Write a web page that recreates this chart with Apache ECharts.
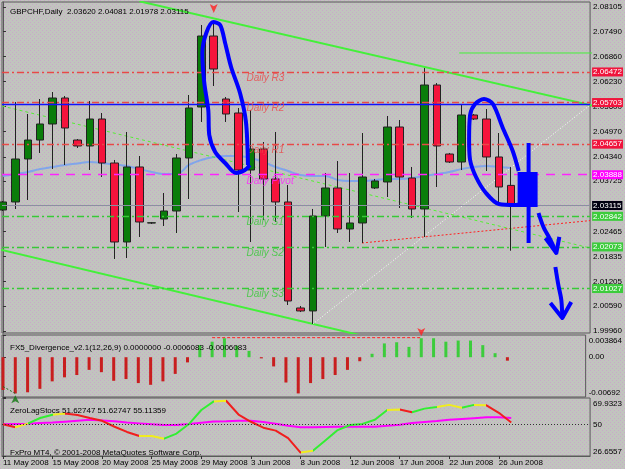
<!DOCTYPE html>
<html>
<head>
<meta charset="utf-8">
<style>
  html, body { margin: 0; padding: 0; background: #c0c3bd; }
  #main { width: 625px; height: 469px; }
</style>
<script src="https://cdn.jsdelivr.net/npm/echarts@6/dist/echarts.min.js"></script>
</head>
<body>
<div id="main"></div>
<script>
// GBPCHF daily, bar 0 = 11 May 2008 ... bar 41 = 27 Jun 2008
// [open, close, low, high]
const candles = [
  [2.03002, 2.03203, 2.02976, 2.03228],
  [2.03203, 2.04284, 2.03027, 2.05717],
  [2.04284, 2.04761, 2.03253, 2.05415],
  [2.04761, 2.05164, 2.04435, 2.05792],
  [2.05164, 2.05817, 2.04032, 2.05968],
  [2.05817, 2.05063, 2.04133, 2.05868],
  [2.04761, 2.04611, 2.04560, 2.04786],
  [2.04611, 2.05289, 2.04007, 2.05742],
  [2.05289, 2.04183, 2.03831, 2.05440],
  [2.04183, 2.02197, 2.01770, 2.04259],
  [2.02197, 2.04083, 2.01795, 2.04963],
  [2.04083, 2.02700, 2.02323, 2.04359],
  [2.02675, 2.02680, 2.02650, 2.02700],
  [2.02775, 2.02976, 2.02599, 2.03429],
  [2.02976, 2.04309, 2.02423, 2.04409],
  [2.04309, 2.05566, 2.03278, 2.05893],
  [2.05591, 2.07376, 2.05214, 2.07653],
  [2.07376, 2.06546, 2.06119, 2.07728],
  [2.05792, 2.05415, 2.05214, 2.05842],
  [2.05440, 2.04007, 2.02951, 2.05566],
  [2.04007, 2.04535, 2.02197, 2.05516],
  [2.04535, 2.03781, 2.02750, 2.04711],
  [2.03781, 2.03203, 2.02700, 2.04963],
  [2.03203, 2.00714, 2.00613, 2.03630],
  [2.00538, 2.00463, 2.00437, 2.00588],
  [2.00463, 2.02851, 2.00136, 2.03027],
  [2.02851, 2.03555, 2.02071, 2.03932],
  [2.03555, 2.02524, 2.02423, 2.04233],
  [2.02524, 2.02675, 2.02197, 2.03932],
  [2.02675, 2.03831, 2.02172, 2.04937],
  [2.03555, 2.03731, 2.03530, 2.03781],
  [2.03706, 2.05088, 2.03328, 2.05365],
  [2.05088, 2.03831, 2.03052, 2.05264],
  [2.03806, 2.03027, 2.02800, 2.04083],
  [2.03027, 2.06144, 2.02323, 2.06572],
  [2.06144, 2.04611, 2.03580, 2.06194],
  [2.04409, 2.04208, 2.04183, 2.04435],
  [2.04208, 2.05390, 2.04007, 2.05666],
  [2.05390, 2.05289, 2.05264, 2.05415],
  [2.05289, 2.04334, 2.03982, 2.05541],
  [2.04334, 2.03580, 2.03203, 2.04937],
  [2.03620, 2.03115, 2.01978, 2.04081],
]

const maLine = [
  2.03856, 2.03907, 2.03957, 2.04032, 2.04083, 2.04133, 2.04170, 2.04208, 2.04183, 2.04145,
  2.04108, 2.04032, 2.03957, 2.03907, 2.03907, 2.04133, 2.04259, 2.04334, 2.04359, 2.04359,
  2.04309, 2.04208, 2.04083, 2.03982, 2.03881, 2.03856, 2.03856, 2.03756, 2.03731, 2.03731,
  2.03756, 2.03781, 2.03781, 2.03806, 2.03856, 2.03907, 2.03957, 2.04032, 2.04083, 2.04108,
  2.04083, 2.04057,
]

const pivotNames = ['Daily R3', 'Daily R2', 'Daily R1', 'Daily Pivot', 'Daily S1', 'Daily S2', 'Daily S3']
const pivotValues = [2.06472, 2.05703, 2.04657, 2.03888, 2.02842, 2.02073, 2.01027]
const bidPrice = 2.03115
const userHLine = 2.05670

const priceTicks = [2.08105, 2.07490, 2.06860, 2.06230, 2.05600, 2.04970, 2.04340, 2.03725,
  2.03095, 2.02465, 2.01835, 2.01205, 2.00590, 1.99960]

const tickBars = [0, 4, 8, 12, 16, 20, 24, 28, 32, 36, 40]
const tickDates = ['11 May 2008', '15 May 2008', '20 May 2008', '25 May 2008', '29 May 2008',
  '3 Jun 2008', '8 Jun 2008', '12 Jun 2008', '17 Jun 2008', '22 Jun 2008', '26 Jun 2008']

// trendlines [bar, price]
const upperTrend = [[11.0, 2.08249], [48, 2.05595]]
const lowerTrend = [[-0.5, 2.02027], [29, 1.99840]]
const whiteTrend = [[25, 2.00136], [47.36, 2.05641]]
const redTrend = [[28.96, 2.02172], [47.36, 2.02735]]
const greenDotTrend = [[-0.08, 2.05616], [47.36, 2.02046]]
const greenShort = [[36.8, 2.06949], [48, 2.06949]]

// hand drawn blue marks
const blueLoop1 = [[19.76, 2.04133], [19.6, 2.05214], [19.12, 2.05943], [18.4, 2.06597], [17.92, 2.07200],
  [17.52, 2.07653], [16.96, 2.07728], [16.4, 2.07451], [16.08, 2.06949], [16.24, 2.06194],
  [16.56, 2.05516], [16.64, 2.04887], [17.12, 2.04460], [17.92, 2.04183], [18.8, 2.03932],
  [19.52, 2.04007], [19.92, 2.04133]]
const blueLoop2 = [[41.6, 2.03982], [41.12, 2.04485], [40.32, 2.05063], [39.52, 2.05666], [38.8, 2.05792],
  [38.08, 2.05666], [37.68, 2.05390], [37.6, 2.04761], [37.68, 2.04259], [38.16, 2.03831],
  [38.96, 2.03429], [40.0, 2.03152], [41.36, 2.03127], [42.16, 2.03177]]
const blueBody = [[42.32, 2.03957], [42.32, 2.03077]]
const blueWick = [[42.4, 2.04686], [42.4, 2.02172]]
const arrow1 = [[43.2, 2.02926], [43.6, 2.02574], [44.16, 2.02247], [44.64, 2.01921]]
const arrow1Head = [[43.76, 2.02298], [44.64, 2.01921], [44.88, 2.02323]]
const arrow2 = [[44.56, 2.01569], [44.8, 2.01116], [45.04, 2.00739], [45.12, 2.00287]]
const arrow2Head = [[44.16, 2.00664], [45.12, 2.00287], [45.84, 2.00689]]

// FX5 divergence histogram
const macdHist = [
  -0.0057, -0.0063, -0.0061, -0.0055, -0.0042, -0.0035, -0.0031, -0.0022, -0.0026, -0.0041,
  -0.0038, -0.0045, -0.0048, -0.0042, -0.0029, -0.0009, 0.0021, 0.0027, 0.0033, 0.0020,
  0.0011, -0.0002, -0.0016, -0.0044, -0.0063, -0.0045, -0.0038, -0.0031, -0.0022, -0.0007,
  0.0006, 0.0024, 0.0026, 0.0018, 0.0033, 0.0033, 0.0027, 0.0029, 0.0029, 0.0021,
  0.0007, -0.0006,
]
const divLine = [[17, 0.0034], [34, 0.0034]]
const divLow = [[0, -0.0051], [1, -0.0063]]
const macdTicks = [-0.00692, 0, 0.003864]

// ZeroLag stochastic
const stochMain = [
  50.4, 48.1, 50.8, 55.0, 57.5, 58.4, 57.3, 55.0, 52.9, 48.5,
  44.6, 41.6, 41.6, 39.6, 43.4, 50.5, 61.0, 67.4, 67.9, 57.6,
  52.2, 47.8, 45.6, 40.0, 29.2, 30.5, 38.3, 46.0, 49.8, 50.6,
  53.7, 61.0, 61.4, 59.3, 62.0, 63.2, 64.8, 62.7, 64.8, 64.5,
  58.9, 51.6,
]
const stochSignal = [
  50.4, 50.6, 50.8, 51.2, 51.6, 52.3, 53.0, 53.7, 53.2, 52.5,
  51.6, 51.0, 50.4, 49.8, 49.8, 50.5, 51.5, 52.4, 52.6, 52.9,
  52.9, 52.0, 50.8, 49.2, 48.1, 48.1, 48.3, 48.5, 48.5, 48.5,
  48.5, 49.2, 50.0, 51.2, 52.0, 52.8, 53.7, 54.3, 54.9, 55.5,
  55.5, 55.1,
]
// colour of each segment i -> i+1
const stochColors = ['r', 'y', 'g', 'g', 'y', 'r', 'r', 'r', 'r', 'r', 'r', 'y', 'y', 'g', 'g', 'g', 'g', 'y', 'r', 'r',
  'r', 'r', 'r', 'r', 'y', 'g', 'g', 'g', 'g', 'g', 'g', 'y', 'r', 'g', 'g', 'y', 'y', 'g', 'y', 'r', 'r']
const stochTicks = [26.6557, 50, 69.9323]

const FONT = 'Liberation Sans'
const colorMap = { r: '#f01e1e', y: '#f0ec1e', g: '#32ee32' }

// MT4 style dotted background
const pat = document.createElement('canvas')
pat.width = 4
pat.height = 4
const pctx = pat.getContext('2d')
pctx.fillStyle = '#c1c4be'
pctx.fillRect(0, 0, 4, 4)
pctx.fillStyle = '#c9a8c9'
pctx.fillRect(0, 0, 1, 1)
pctx.fillRect(2, 2, 1, 1)

const chart = echarts.init(document.getElementById('main'), null, { renderer: 'canvas' })

const xBase = { type: 'value', min: -0.08, max: 47.36, show: false }

function trend (data, color, width, type, z) {
  return {
    type: 'line', data, xAxisIndex: 0, yAxisIndex: 0, symbol: 'none', silent: true,
    lineStyle: { color, width, type }, z: z || 3,
  }
}

function blue (data, width, smooth) {
  return {
    type: 'line', data, xAxisIndex: 0, yAxisIndex: 0, symbol: 'none', silent: true, smooth: smooth || false,
    lineStyle: { color: '#0000ff', width, cap: 'butt', join: 'round' }, z: 10,
  }
}

function tagLine (value, color, bg, type, width) {
  return {
    yAxis: value,
    lineStyle: { color, type, width: width || 1 },
    label: {
      show: true, position: 'end', distance: 2, formatter: value.toFixed(5),
      color: '#fff', backgroundColor: bg, padding: [1, 1, 0, 1],
      fontFamily: FONT, fontSize: 8,
    },
  }
}

const pivotColors = ['#e84848', '#e84848', '#e84848', '#ff22ff', '#38c838', '#38c838', '#38c838']
const pivotDash = [[7, 3, 2, 3], [7, 3, 2, 3], [7, 3, 2, 3], [9, 7], [7, 3, 2, 3], [7, 3, 2, 3], [7, 3, 2, 3]]
const tagBg = ['#f0143c', '#f0143c', '#f0143c', '#ff00ff', '#3ccc3c', '#3ccc3c', '#3ccc3c']

const markLines = [{ yAxis: userHLine, lineStyle: { color: '#1010ff', type: 'solid', width: 1.3 }, label: { show: false } }]
pivotValues.forEach((v, i) => markLines.push(tagLine(v, pivotColors[i], tagBg[i], pivotDash[i], 1.3)))
markLines.push(tagLine(bidPrice, '#8a90a0', '#000010', 'solid', 1))

const series = [
  {
    type: 'candlestick',
    xAxisIndex: 0, yAxisIndex: 0,
    data: candles.map((c, i) => [i, c[0], c[1], c[2], c[3]]),
    barWidth: 8,
    itemStyle: {
      color: '#0a7d0a', color0: '#f5143c',
      borderColor: '#222', borderColor0: '#222', borderWidth: 1,
    },
    z: 4,
  },
  {
    type: 'line', xAxisIndex: 0, yAxisIndex: 0, symbol: 'none', smooth: 0.4, silent: true,
    data: maLine.map((v, i) => [i, v]),
    lineStyle: { color: '#7aa2ee', width: 2, opacity: 0.9 },
    markLine: { symbol: 'none', silent: true, animation: false, precision: 6, data: markLines },
    z: 3,
  },
  {
    type: 'scatter', xAxisIndex: 0, yAxisIndex: 0, symbolSize: 1, silent: true,
    itemStyle: { color: 'rgba(0,0,0,0)' },
    data: pivotValues.map((v, i) => ({
      value: [19.6, v],
      label: { color: pivotColors[i] },
    })),
    label: {
      show: true, position: 'right', distance: 0, offset: [0, 6],
      formatter: (p) => pivotNames[p.dataIndex],
      fontFamily: FONT, fontSize: 10, fontStyle: 'italic',
    },
    z: 5,
  },
  trend(upperTrend, '#44f03a', 2, 'solid'),
  trend(lowerTrend, '#44f03a', 2, 'solid'),
  trend(greenShort, '#44f03a', 1, 'solid'),
  trend(whiteTrend, '#ffffff', 1, [1, 2]),
  trend(redTrend, '#ff2020', 1, [2, 2]),
  trend(greenDotTrend, '#55ee33', 1, [3, 3]),
  {
    type: 'scatter', xAxisIndex: 0, yAxisIndex: 0, silent: true,
    symbol: 'arrow', symbolRotate: 180, symbolSize: [6, 9],
    itemStyle: { color: '#ff2020' },
    data: [[17, 2.07955]], z: 6,
  },
  blue(blueLoop1, 4, 0.3),
  blue(blueLoop2, 4, 0.3),
  blue(blueBody, 20),
  blue(blueWick, 4),
  blue(arrow1, 4, 0.3),
  blue(arrow1Head, 4),
  blue(arrow2, 4, 0.3),
  blue(arrow2Head, 4),
  // FX5 divergence
  {
    type: 'bar', xAxisIndex: 1, yAxisIndex: 1, barWidth: 3, silent: true,
    data: macdHist.map((v, i) => [i, v]),
    itemStyle: { color: (p) => (p.value[1] >= 0 ? '#3ccc3c' : '#c81e1e') },
  },
  {
    type: 'line', xAxisIndex: 1, yAxisIndex: 1, symbol: 'none', silent: true,
    data: divLine, lineStyle: { color: '#ff2020', width: 1, type: [3, 2] },
  },
  {
    type: 'line', xAxisIndex: 1, yAxisIndex: 1, symbol: 'none', silent: true,
    data: divLow, lineStyle: { color: '#1a6a1a', width: 1, type: [2, 2] },
  },
  {
    type: 'scatter', xAxisIndex: 1, yAxisIndex: 1, silent: true, symbol: 'arrow',
    symbolSize: [6, 8],
    data: [
      { value: [34, 0.0037], symbolRotate: 180, itemStyle: { color: '#ff2020' } },
      { value: [1, -0.0066], symbolRotate: 0, itemStyle: { color: '#117711' } },
    ],
  },
  // ZeroLag stochastic
  {
    type: 'line', xAxisIndex: 2, yAxisIndex: 2, symbol: 'none', silent: true,
    data: stochSignal.map((v, i) => [i, v]),
    lineStyle: { color: '#ff00ff', width: 2 },
    markLine: {
      symbol: 'none', silent: true, label: { show: false },
      data: [{ yAxis: 50 }],
      lineStyle: { color: '#333', type: [1, 2], width: 1 },
    },
    z: 3,
  },
  {
    id: 'stochMain',
    type: 'line', xAxisIndex: 2, yAxisIndex: 2, symbol: 'none', silent: true,
    data: stochMain.map((v, i) => [i, v]),
    lineStyle: { width: 2 }, z: 4,
  },
]

const stochIndex = series.findIndex((s) => s.id === 'stochMain')

const axisLabelStyle = { fontFamily: FONT, fontSize: 8, color: '#000' }

const option = {
  animation: false,
  backgroundColor: { image: pat, repeat: 'repeat' },
  title: [
    { text: 'GBPCHF,Daily  2.03620 2.04081 2.01978 2.03115', left: 5, top: 3, textStyle: { ...axisLabelStyle, fontWeight: 'normal' } },
    { text: 'FX5_Divergence_v2.1(12,26,9) 0.0000000 -0.0006083 -0.0006083', left: 5, top: 339, textStyle: { ...axisLabelStyle, fontWeight: 'normal' } },
    { text: 'ZeroLagStocs 51.62747 51.62747 55.11359', left: 5, top: 402, textStyle: { ...axisLabelStyle, fontWeight: 'normal' } },
    { text: 'FxPro MT4, © 2001-2008 MetaQuotes Software Corp.', left: 5, top: 444, textStyle: { ...axisLabelStyle, fontWeight: 'normal' } },
  ],
  grid: [
    { left: 2, top: 2, width: 593, height: 331, show: true, borderColor: '#5a5a5a', borderWidth: 1 },
    { left: 2, top: 335, width: 593, height: 62, show: true, borderColor: '#5a5a5a', borderWidth: 1 },
    { left: 2, top: 398, width: 593, height: 58, show: true, borderColor: '#5a5a5a', borderWidth: 1 },
  ],
  xAxis: [
    { ...xBase, gridIndex: 0 },
    { ...xBase, gridIndex: 1 },
    {
      type: 'value', min: -0.08, max: 47.36, gridIndex: 2, show: true,
      axisLine: { show: true, lineStyle: { color: '#5a5a5a' } },
      splitLine: { show: false },
      axisTick: { show: true, customValues: tickBars, length: 3, lineStyle: { color: '#333' } },
      axisLabel: {
        ...axisLabelStyle, customValues: tickBars, align: 'left', margin: 3,
        formatter: (v) => tickDates[tickBars.indexOf(Math.round(v))] || '',
      },
    },
  ],
  yAxis: [
    {
      type: 'value', gridIndex: 0, position: 'right', min: 1.99909, max: 2.08231, scale: true,
      splitLine: { show: false },
      axisLine: { show: true, lineStyle: { color: '#5a5a5a' } },
      axisTick: { show: true, customValues: priceTicks, length: 3, lineStyle: { color: '#333' } },
      axisLabel: { ...axisLabelStyle, customValues: priceTicks, margin: 3, formatter: (v) => v.toFixed(5) },
    },
    {
      type: 'value', gridIndex: 1, position: 'right', min: -0.00692, max: 0.003864,
      splitLine: { show: false },
      axisLine: { show: true, lineStyle: { color: '#5a5a5a' } },
      axisTick: { show: true, customValues: macdTicks, length: 3, lineStyle: { color: '#333' } },
      axisLabel: {
        ...axisLabelStyle, customValues: macdTicks, margin: 3,
        formatter: (v) => (v > 0.003 ? '{t|0.003864}' : v < -0.006 ? '{b|-0.00692}' : '0.00'),
        rich: { t: { padding: [11, 0, 0, 0] }, b: { padding: [0, 0, 9, 0] } },
      },
    },
    {
      type: 'value', gridIndex: 2, position: 'right', min: 26.6557, max: 69.9323,
      splitLine: { show: false },
      axisLine: { show: true, lineStyle: { color: '#5a5a5a' } },
      axisTick: { show: true, customValues: stochTicks, length: 3, lineStyle: { color: '#333' } },
      axisLabel: {
        ...axisLabelStyle, customValues: stochTicks, margin: 3,
        formatter: (v) => (v > 60 ? '{t|69.9323}' : v < 30 ? '{b|26.6557}' : '50'),
        rich: { t: { padding: [11, 0, 0, 0] }, b: { padding: [0, 0, 9, 0] } },
      },
    },
  ],
  visualMap: [{
    type: 'piecewise', show: false, seriesIndex: stochIndex, dimension: 0,
    pieces: stochColors.map((c, i) => ({ gte: i, lt: i + 1, color: colorMap[c] })),
    outOfRange: { color: colorMap.r },
  }],
  series,
}

chart.setOption(option)
</script>
</body>
</html>
